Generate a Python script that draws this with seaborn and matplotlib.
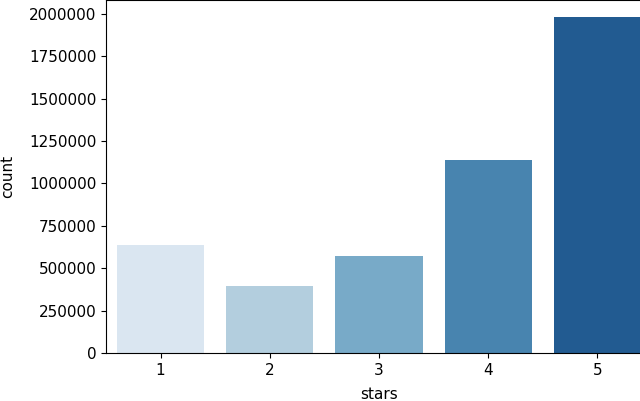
import matplotlib
matplotlib.use("Agg")
import matplotlib.pyplot as plt
import seaborn as sns
import pandas as pd

stars = ['1', '2', '3', '4', '5']
counts = [638000, 396000, 573000, 1140000, 1982000]

plt.rcParams['font.family'] = ['DejaVu Sans']
plt.rcParams['font.size'] = 11

df = pd.DataFrame({'stars': stars, 'count': counts})

fig = plt.figure(figsize=(6.4, 4.01), dpi=100)
# axes runs past the right edge, as in the cropped reference
ax = fig.add_axes([106 / 640, 48 / 401, 546 / 640, 353 / 401])
sns.barplot(data=df, x='stars', y='count', hue='stars',
            palette=sns.color_palette('Blues', len(stars)),
            legend=False, ax=ax)
ax.ticklabel_format(style='plain', axis='y')
ax.set_xlabel('stars', labelpad=7)
ax.set_ylabel('count', labelpad=10)

fig.savefig('out.png', dpi=100)
